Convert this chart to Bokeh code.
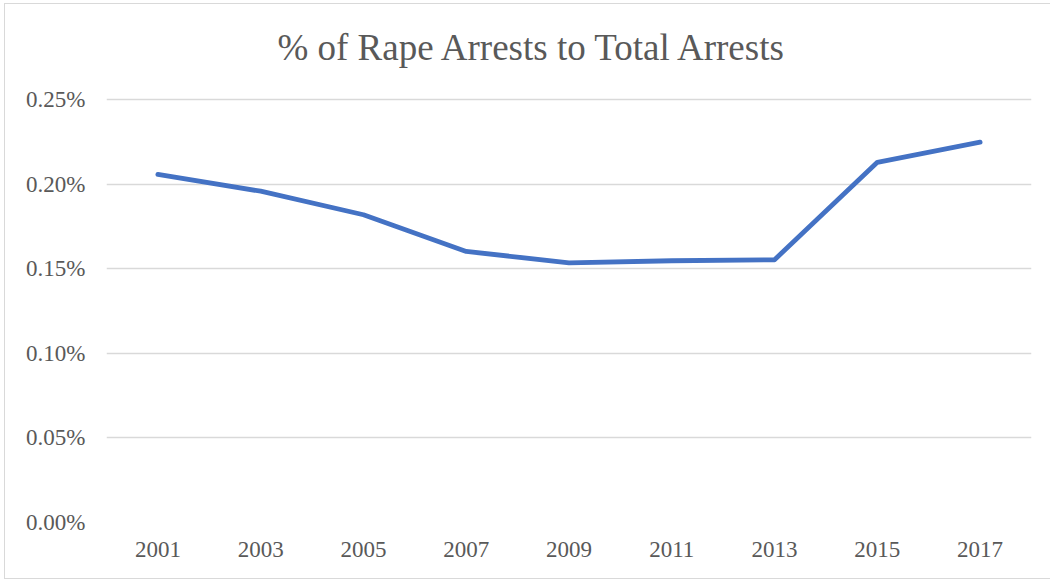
from bokeh.plotting import figure
from bokeh.models import Range1d, FixedTicker, PrintfTickFormatter, Label
from bokeh.embed import file_html
from bokeh.resources import INLINE

years = ["2001", "2003", "2005", "2007", "2009", "2011", "2013", "2015", "2017"]
rape_pct = [0.2057, 0.1958, 0.1819, 0.1602, 0.1535, 0.1547, 0.1553, 0.2129, 0.2248]
y_ticks = [0.0, 0.05, 0.10, 0.15, 0.20, 0.25]
title_text = "% of Rape Arrests to Total Arrests"

FONT = "Liberation Serif"
TXT = "#595959"

# frame extends above the 0.25% gridline so the title can sit inside it
Y_MAX = 0.25 * 512 / 423

p = figure(width=1045, height=574, x_range=years, y_range=Range1d(0, Y_MAX),
           output_backend="svg", toolbar_location=None,
           min_border_left=101, min_border_right=19, min_border_top=6, min_border_bottom=56)
p.margin = (4, 0, 0, 5)
p.styles = {"outline": "1px solid #D9D9D9"}
p.outline_line_color = None
p.background_fill_color = "white"
p.border_fill_color = "white"

p.line(x=years, y=rape_pct, line_color="#4472C4", line_width=4.8,
       line_cap="round", line_join="round")

p.xgrid.grid_line_color = None
p.ygrid.grid_line_color = "#D9D9D9"
p.ygrid.grid_line_width = 1.3

p.yaxis.ticker = FixedTicker(ticks=y_ticks)
p.yaxis.formatter = PrintfTickFormatter(format="%.2f%%")
for ax in (p.xaxis, p.yaxis):
    ax.axis_line_color = None
    ax.major_tick_line_color = None
    ax.minor_tick_line_color = None
    ax.major_tick_in = 0
    ax.major_tick_out = 0
    ax.major_label_text_font = FONT
    ax.major_label_text_font_size = "23px"
    ax.major_label_text_color = TXT
p.yaxis.major_label_standoff = 21
p.xaxis.major_label_standoff = 19

p.add_layout(Label(x=4.15, y=0.25 * 475 / 423, text=title_text, text_align="center",
                   text_baseline="alphabetic", text_font=FONT, text_font_size="37px",
                   text_color=TXT))

open("out.html", "w").write(file_html(p, INLINE))
